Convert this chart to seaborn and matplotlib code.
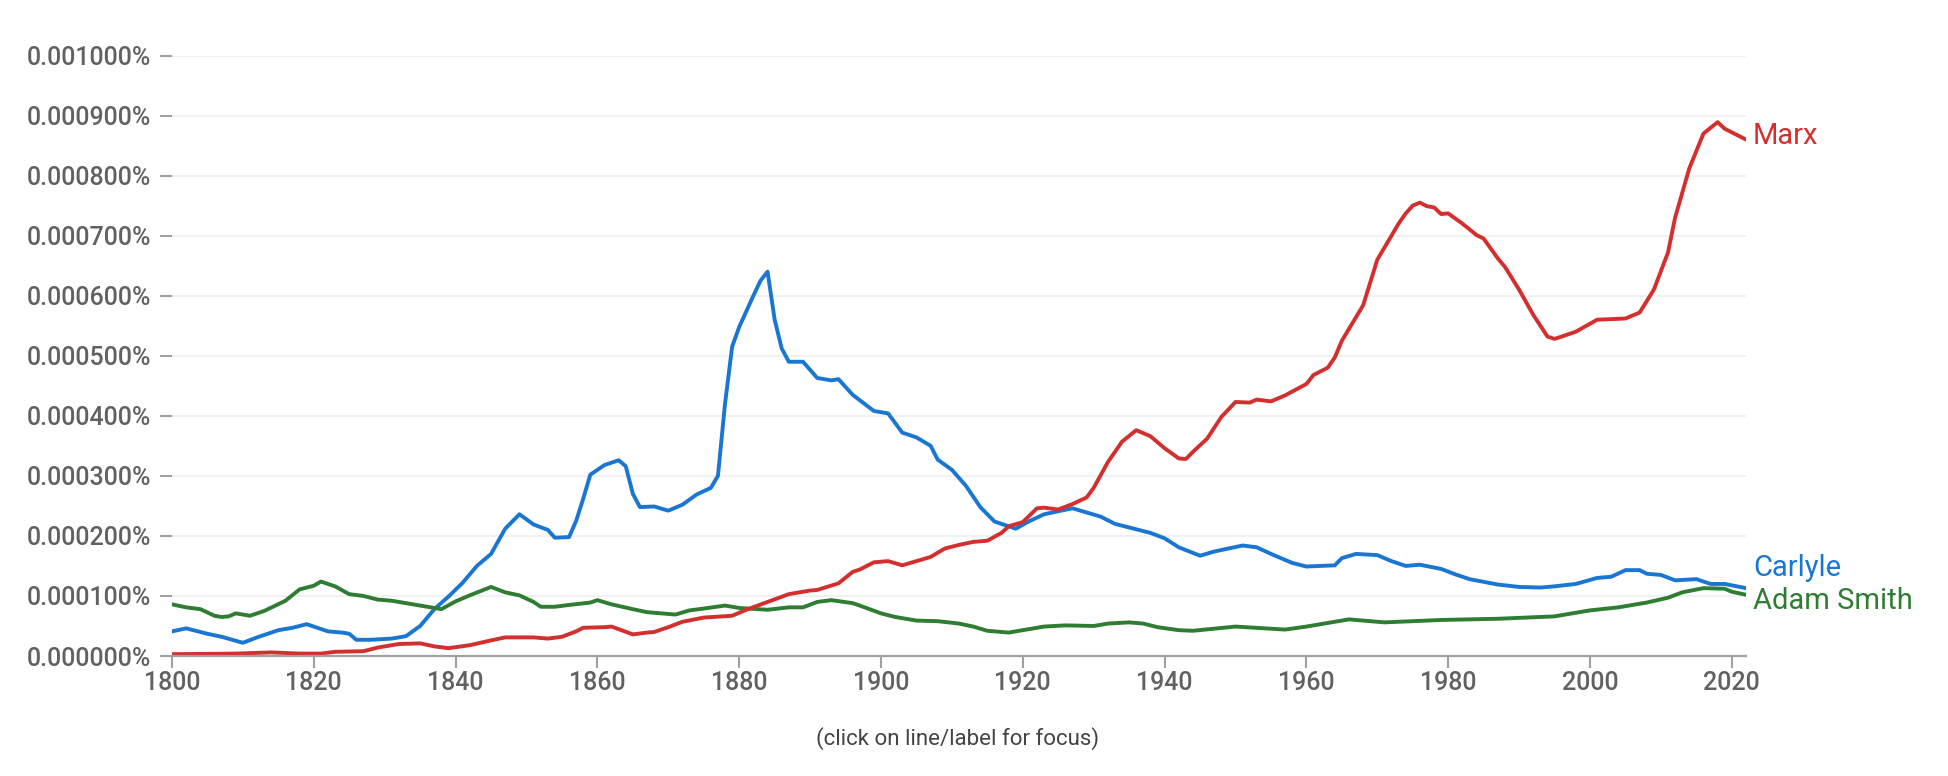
import pandas as pd
import matplotlib
matplotlib.use('Agg')
import matplotlib.pyplot as plt
import seaborn as sns

# Values (frequency in percent)
marx_years = [1800, 1809, 1814, 1818, 1821, 1823, 1827, 1829, 1832, 1835, 1837, 1839,
              1842, 1845, 1847, 1851, 1853, 1855, 1857, 1858, 1861, 1862, 1865, 1867,
              1868, 1870, 1872, 1875, 1879, 1881, 1884, 1887, 1890, 1891, 1894, 1896,
              1897, 1899, 1901, 1903, 1905, 1907, 1909, 1911, 1913, 1915, 1917, 1918,
              1920, 1922, 1923, 1925, 1927, 1929, 1930, 1932, 1934, 1936, 1938, 1940,
              1942, 1943, 1944, 1946, 1948, 1950, 1952, 1953, 1955, 1957, 1960, 1961,
              1963, 1964, 1965, 1968, 1970, 1971, 1973, 1974, 1975, 1976, 1977, 1978,
              1979, 1980, 1982, 1984, 1985, 1987, 1988, 1990, 1992, 1994, 1995, 1998,
              2001, 2005, 2007, 2009, 2011, 2012, 2014, 2016, 2018, 2019, 2021, 2022]
marx_values = [0.000003, 0.000004, 0.000006, 0.000004, 0.000004, 0.000007, 0.000008,
               0.000014, 0.000020, 0.000021, 0.000016, 0.000013, 0.000018, 0.000026,
               0.000031, 0.000031, 0.000029, 0.000032, 0.000041, 0.000047, 0.000048,
               0.000049, 0.000036, 0.000039, 0.000040, 0.000048, 0.000057, 0.000064,
               0.000067, 0.000077, 0.000090, 0.000103, 0.000109, 0.000110, 0.000121,
               0.000140, 0.000144, 0.000156, 0.000158, 0.000151, 0.000158, 0.000165,
               0.000179, 0.000185, 0.000190, 0.000192, 0.000205, 0.000216, 0.000223,
               0.000246, 0.000247, 0.000244, 0.000253, 0.000264, 0.000280, 0.000323,
               0.000357, 0.000376, 0.000366, 0.000346, 0.000329, 0.000328, 0.000340,
               0.000362, 0.000398, 0.000423, 0.000422, 0.000427, 0.000424, 0.000434,
               0.000453, 0.000468, 0.000480, 0.000497, 0.000525, 0.000584, 0.000660,
               0.000680, 0.000720, 0.000737, 0.000750, 0.000755, 0.000749, 0.000747,
               0.000736, 0.000737, 0.000720, 0.000701, 0.000695, 0.000662, 0.000648,
               0.000610, 0.000568, 0.000532, 0.000528, 0.000540, 0.000560, 0.000562,
               0.000572, 0.000610, 0.000672, 0.000730, 0.000812, 0.000870, 0.000889,
               0.000878, 0.000866, 0.000860]

carlyle_years = [1800, 1802, 1805, 1807, 1810, 1812, 1815, 1817, 1819, 1822, 1824, 1825,
                 1826, 1828, 1831, 1833, 1835, 1837, 1839, 1841, 1843, 1845, 1847, 1849,
                 1851, 1853, 1854, 1856, 1857, 1858, 1859, 1861, 1863, 1864, 1865, 1866,
                 1868, 1870, 1872, 1874, 1876, 1877, 1878, 1879, 1880, 1882, 1883, 1884,
                 1885, 1886, 1887, 1889, 1891, 1893, 1894, 1896, 1899, 1901, 1903, 1905,
                 1907, 1908, 1910, 1912, 1914, 1916, 1919, 1921, 1923, 1925, 1927, 1929,
                 1931, 1933, 1936, 1938, 1940, 1942, 1945, 1947, 1951, 1953, 1955, 1958,
                 1960, 1964, 1965, 1967, 1970, 1972, 1974, 1976, 1979, 1981, 1983, 1987,
                 1990, 1993, 1995, 1998, 2001, 2003, 2005, 2007, 2008, 2010, 2012, 2015,
                 2017, 2019, 2022]
carlyle_values = [0.000041, 0.000046, 0.000037, 0.000032, 0.000022, 0.000031, 0.000043,
                  0.000047, 0.000053, 0.000041, 0.000039, 0.000037, 0.000027, 0.000027,
                  0.000029, 0.000033, 0.000050, 0.000078, 0.000099, 0.000122, 0.000150,
                  0.000170, 0.000212, 0.000236, 0.000219, 0.000210, 0.000197, 0.000198,
                  0.000225, 0.000262, 0.000302, 0.000318, 0.000326, 0.000316, 0.000270,
                  0.000248, 0.000249, 0.000242, 0.000252, 0.000269, 0.000280, 0.000300,
                  0.000420, 0.000515, 0.000548, 0.000600, 0.000625, 0.000640, 0.000560,
                  0.000512, 0.000490, 0.000490, 0.000463, 0.000459, 0.000461, 0.000435,
                  0.000408, 0.000404, 0.000372, 0.000364, 0.000350, 0.000327, 0.000310,
                  0.000283, 0.000248, 0.000224, 0.000212, 0.000225, 0.000236, 0.000241,
                  0.000246, 0.000239, 0.000232, 0.000220, 0.000211, 0.000205, 0.000196,
                  0.000181, 0.000167, 0.000174, 0.000184, 0.000181, 0.000170, 0.000155,
                  0.000149, 0.000151, 0.000163, 0.000170, 0.000168, 0.000158, 0.000150,
                  0.000152, 0.000145, 0.000136, 0.000128, 0.000119, 0.000115, 0.000114,
                  0.000116, 0.000120, 0.000130, 0.000132, 0.000143, 0.000143, 0.000137,
                  0.000135, 0.000126, 0.000128, 0.000120, 0.000120, 0.000113]

smith_years = [1800, 1802, 1804, 1806, 1807, 1808, 1809, 1811, 1813, 1816, 1818, 1820,
               1821, 1823, 1825, 1827, 1829, 1831, 1835, 1837, 1838, 1840, 1842, 1845,
               1847, 1849, 1851, 1852, 1854, 1856, 1859, 1860, 1862, 1865, 1867, 1869,
               1871, 1873, 1875, 1878, 1880, 1884, 1887, 1889, 1891, 1893, 1896, 1897,
               1900, 1902, 1905, 1908, 1911, 1913, 1915, 1918, 1920, 1923, 1926, 1930,
               1932, 1935, 1937, 1939, 1942, 1944, 1950, 1957, 1960, 1966, 1971, 1979,
               1987, 1995, 2000, 2004, 2008, 2011, 2013, 2016, 2019, 2020, 2022]
smith_values = [0.000086, 0.000081, 0.000078, 0.000067, 0.000065, 0.000066, 0.000071,
                0.000067, 0.000075, 0.000092, 0.000111, 0.000117, 0.000124, 0.000116,
                0.000103, 0.000100, 0.000094, 0.000092, 0.000084, 0.000080, 0.000078,
                0.000091, 0.000101, 0.000115, 0.000106, 0.000101, 0.000090, 0.000082,
                0.000082, 0.000085, 0.000089, 0.000093, 0.000086, 0.000078, 0.000073,
                0.000071, 0.000069, 0.000076, 0.000079, 0.000084, 0.000080, 0.000077,
                0.000081, 0.000081, 0.000090, 0.000093, 0.000088, 0.000084, 0.000071,
                0.000065, 0.000059, 0.000058, 0.000054, 0.000049, 0.000042, 0.000039,
                0.000043, 0.000049, 0.000051, 0.000050, 0.000054, 0.000056, 0.000054,
                0.000048, 0.000043, 0.000042, 0.000049, 0.000044, 0.000049, 0.000061,
                0.000056, 0.000060, 0.000062, 0.000066, 0.000076, 0.000081, 0.000089,
                0.000097, 0.000106, 0.000113, 0.000112, 0.000107, 0.000102]

terms = ['Carlyle', 'Adam Smith', 'Marx']
colors = {'Marx': '#D32F2F', 'Carlyle': '#1976D2', 'Adam Smith': '#2E7D32'}
x_ticks = [1800, 1820, 1840, 1860, 1880, 1900, 1920, 1940, 1960, 1980, 2000, 2020]
y_ticks = [0.0, 0.0001, 0.0002, 0.0003, 0.0004, 0.0005, 0.0006, 0.0007, 0.0008, 0.0009, 0.001]

df = pd.concat([
    pd.DataFrame({'ano': carlyle_years, 'freq': carlyle_values, 'termo': 'Carlyle'}),
    pd.DataFrame({'ano': smith_years, 'freq': smith_values, 'termo': 'Adam Smith'}),
    pd.DataFrame({'ano': marx_years, 'freq': marx_values, 'termo': 'Marx'}),
], ignore_index=True)

sns.set_theme(style='white')
plt.rcParams['font.family'] = ['Roboto', 'DejaVu Sans']

fig = plt.figure(figsize=(19.48, 7.76), dpi=100)
ax = fig.add_axes([172 / 1948, 120 / 776, 1574 / 1948, 600.5 / 776])

sns.lineplot(data=df, x='ano', y='freq', hue='termo', hue_order=terms,
             palette=colors, linewidth=2.8, legend=False, ax=ax,
             solid_joinstyle='round', solid_capstyle='round')

ax.set_xlim(1800, 2022)
ax.set_ylim(0, 0.001)
ax.set_xticks(x_ticks)
ax.set_yticks(y_ticks)
ax.set_yticklabels([f'{v:.6f}%' for v in y_ticks])
ax.set_xlabel('')
ax.set_ylabel('')

ax.grid(axis='y', color='#efefef', linewidth=1.2)
ax.grid(axis='x', visible=False)
for s in ['top', 'right', 'left']:
    ax.spines[s].set_visible(False)
ax.spines['bottom'].set_color('#a0a0a0')
ax.spines['bottom'].set_linewidth(1.6)

ax.tick_params(axis='y', which='major', left=True, length=8.6, width=1.5,
               color='#a0a0a0', pad=6.5, labelsize=18, labelcolor='#616161')
ax.tick_params(axis='x', which='major', bottom=True, length=8.6, width=1.5,
               color='#a0a0a0', pad=2, labelsize=18, labelcolor='#616161')
for lbl in ax.get_xticklabels() + ax.get_yticklabels():
    lbl.set_fontweight('medium')

# Series labels at the end of each line
label_offsets = {'Marx': -4, 'Carlyle': 12, 'Adam Smith': -14}
series_end = {'Marx': (marx_years[-1], marx_values[-1]),
              'Carlyle': (carlyle_years[-1], carlyle_values[-1]),
              'Adam Smith': (smith_years[-1], smith_values[-1])}
for termo, (xe, ye) in series_end.items():
    ax.annotate(termo, xy=(xe, ye), xytext=(7, label_offsets[termo]),
                textcoords='offset pixels', ha='left', va='baseline',
                fontsize=21, color=colors[termo], annotation_clip=False)

fig.text(958 / 1948, 1 - 745 / 776, '(click on line/label for focus)',
         ha='center', va='baseline', fontsize=16, color='#444444')

fig.savefig('out.png', dpi=100)
plt.close(fig)
